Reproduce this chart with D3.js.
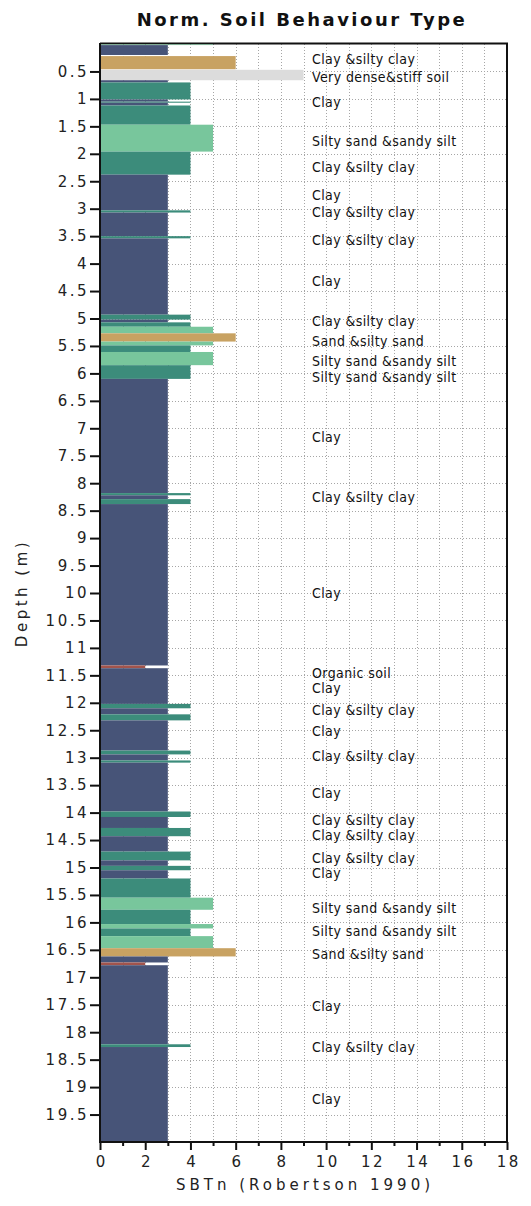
<!DOCTYPE html>
<html><head><meta charset="utf-8">
<script src="https://cdn.jsdelivr.net/npm/d3@7"></script>
<style>
html,body{margin:0;padding:0;background:#fff;}
svg{display:block;}
</style></head>
<body>
<svg id="chart" width="531" height="1206"></svg>
<script>
// ---- data (depth in m, SBTn zone value) ----
const layerTop    = [0.00,0.02,0.22,0.47,0.66,0.70,1.01,1.05,1.07,1.12,1.47,1.96,2.38,3.03,3.07,3.50,3.54,4.93,5.02,5.07,5.15,5.27,5.42,5.49,5.61,5.85,6.10,8.18,8.22,8.29,8.38,11.32,11.37,12.02,12.10,12.21,12.32,12.87,12.94,13.05,13.09,13.98,14.08,14.28,14.43,14.71,14.87,14.97,15.05,15.20,15.55,15.77,16.03,16.11,16.25,16.47,16.62,16.73,16.78,18.22,18.27];
const layerBottom = [0.02,0.20,0.46,0.66,0.70,1.01,1.05,1.07,1.12,1.47,1.96,2.38,3.03,3.07,3.50,3.54,4.93,5.02,5.07,5.15,5.27,5.42,5.49,5.61,5.85,6.10,8.18,8.22,8.29,8.38,11.32,11.37,12.02,12.10,12.21,12.32,12.87,12.94,13.05,13.09,13.98,14.08,14.28,14.43,14.71,14.87,14.97,15.05,15.20,15.55,15.77,16.03,16.11,16.25,16.47,16.62,16.73,16.78,18.22,18.27,20.00];
const layerSBTn   = [5,3,6,9,3,4,3,4,3,4,5,4,3,4,3,4,3,4,3,4,5,6,5,4,5,4,3,4,3,4,3,2,3,4,3,4,3,4,3,4,3,4,3,4,3,4,3,4,3,4,5,4,5,4,5,6,3,2,3,4,3];

const labelDepth = [0.27,0.61,1.05,1.77,2.25,2.75,3.07,3.58,4.31,5.04,5.41,5.77,6.06,7.16,8.25,10.0,11.46,11.73,12.13,12.52,12.97,13.65,14.14,14.41,14.83,15.10,15.74,16.16,16.58,17.53,18.27,19.22];
const labelText  = ["Clay &silty clay","Very dense&stiff soil","Clay","Silty sand &sandy silt","Clay &silty clay","Clay","Clay &silty clay","Clay &silty clay","Clay","Clay &silty clay","Sand &silty sand","Silty sand &sandy silt","Silty sand &sandy silt","Clay","Clay &silty clay","Clay","Organic soil","Clay","Clay &silty clay","Clay","Clay &silty clay","Clay","Clay &silty clay","Clay &silty clay","Clay &silty clay","Clay","Silty sand &sandy silt","Silty sand &sandy silt","Sand &silty sand","Clay","Clay &silty clay","Clay"];

const yTicks = [0.5,1,1.5,2,2.5,3,3.5,4,4.5,5,5.5,6,6.5,7,7.5,8,8.5,9,9.5,10,10.5,11,11.5,12,12.5,13,13.5,14,14.5,15,15.5,16,16.5,17,17.5,18,18.5,19,19.5];
const xTicks = [0,2,4,6,8,10,12,14,16,18];
const xMinorTicks = [1,3,5,7,9,11,13,15,17];
const xGrid = [1,2,3,4,5,6,7,8,9,10,11,12,13,14,15,16,17];

const zoneColor = {2:"#a2544c",3:"#475478",4:"#3c8c7b",5:"#78c69c",6:"#c8a262",9:"#dcdcdc"};

// ---- layout ----
const svg = d3.select("#chart");
const x = d3.scaleLinear().domain([0,18]).range([100,507]);
const y = d3.scaleLinear().domain([0,20]).range([44,1142]);
const FONT = "'DejaVu Sans',Verdana,sans-serif";

// grid
const grid = svg.append("g").attr("stroke","#a6a6a6").attr("stroke-dasharray","1,2").attr("stroke-width",1);
grid.selectAll("line.v").data(xGrid).join("line")
  .attr("x1",d=>Math.round(x(d))+0.5).attr("x2",d=>Math.round(x(d))+0.5)
  .attr("y1",y(0)).attr("y2",y(20));
grid.selectAll("line.h").data(yTicks).join("line")
  .attr("y1",d=>Math.round(y(d))+0.5).attr("y2",d=>Math.round(y(d))+0.5)
  .attr("x1",x(0)).attr("x2",x(18));

// frame (top/right)
svg.append("path").attr("d",`M${x(0)},43.5H${x(18)}V${y(20)}`)
  .attr("fill","none").attr("stroke","#111").attr("stroke-width",2);

// bars
const layers = layerTop.map((t,i)=>({t,b:layerBottom[i],v:layerSBTn[i]}));
svg.append("g").selectAll("rect").data(layers).join("rect")
  .attr("x",x(0))
  .attr("y",d=>y(d.t))
  .attr("width",d=>x(d.v)-x(0))
  .attr("height",d=>y(d.b)-y(d.t))
  .attr("fill",d=>zoneColor[d.v])
  .attr("opacity",(d,i)=>i===0?0.55:1);

// labels
svg.append("g").selectAll("text").data(labelDepth).join("text")
  .attr("x",312).attr("y",d=>y(d)).attr("dy","0.35em")
  .attr("font-family","'DejaVu Sans Condensed','DejaVu Sans',sans-serif")
  .attr("font-stretch","condensed")
  .attr("font-size",14).attr("letter-spacing","0.4px").attr("fill","#111")
  .text((d,i)=>labelText[i]);

// axes
const yAxis = svg.append("g").attr("transform",`translate(${x(0)},0)`)
  .call(d3.axisLeft(y).tickValues(yTicks).tickSize(10).tickPadding(1).tickFormat(d=>String(d)));
const xAxis = svg.append("g").attr("transform",`translate(0,${y(20)})`)
  .call(d3.axisBottom(x).tickValues(xTicks).tickSize(8).tickPadding(6).tickFormat(d=>String(d)));
svg.append("g").attr("transform",`translate(0,${y(20)})`)
  .call(d3.axisBottom(x).tickValues(xMinorTicks).tickSize(4).tickFormat(""))
  .call(g=>g.select(".domain").remove());
svg.selectAll(".tick line").attr("stroke","#111").attr("stroke-width",2);
svg.selectAll(".domain").attr("stroke","#111").attr("stroke-width",2);
yAxis.select(".domain").attr("d",`M0,${y(0)-1}V${y(20)+1}`);
xAxis.select(".domain").attr("d",`M${x(0)},0H${x(18)}`);
svg.selectAll(".tick text").attr("font-family",FONT)
  .attr("font-size",15).attr("fill","#222").attr("letter-spacing","2.5px");
xAxis.selectAll(".tick text").attr("dx","1.25px");

// titles
svg.append("text").attr("x",302).attr("y",26).attr("text-anchor","middle")
  .attr("font-family",FONT).attr("font-weight","bold")
  .attr("font-size",18).attr("fill","#111").attr("letter-spacing","2.5px")
  .text("Norm. Soil Behaviour Type");
svg.append("text").attr("x",305).attr("y",1190).attr("text-anchor","middle")
  .attr("font-family",FONT)
  .attr("font-size",15).attr("fill","#222").attr("letter-spacing","4px")
  .text("SBTn (Robertson 1990)");
svg.append("text").attr("transform",`translate(27,${(y(0)+y(20))/2}) rotate(-90)`)
  .attr("text-anchor","middle")
  .attr("font-family",FONT)
  .attr("font-size",15).attr("fill","#222").attr("letter-spacing","3.5px")
  .text("Depth (m)");
</script>
</body></html>
